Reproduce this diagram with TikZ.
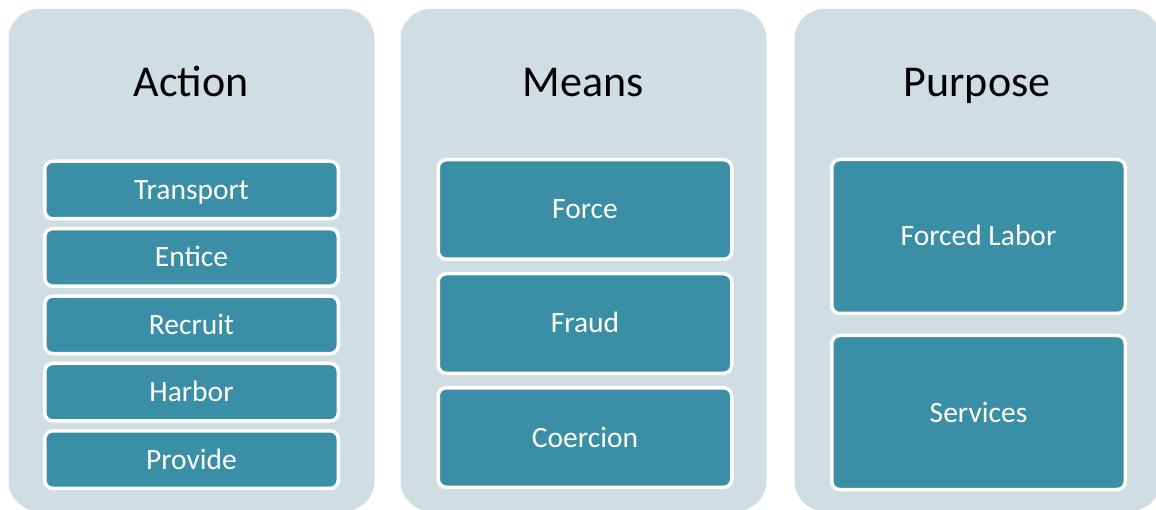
\documentclass[tikz,border=0pt]{standalone}
\usepackage{fontspec}
\setmainfont{Carlito}
\definecolor{panelgray}{RGB}{208,221,227}
\definecolor{boxteal}{RGB}{58,142,165}
\begin{document}
\begin{tikzpicture}[x=1pt,y=-1pt,
	panel/.style={fill=panelgray,rounded corners=30pt,minimum width=366pt,minimum height=502pt,inner sep=0pt},
	title/.style={font=\fontsize{44}{44}\selectfont,text height=28.3pt,text depth=0pt,inner sep=0pt},
	item/.style={draw=white,line width=3.5pt,fill=boxteal,rounded corners=8pt,text=white,minimum width=293.5pt,
		font=\fontsize{29.5}{30}\selectfont,text height=19pt,text depth=0pt,inner sep=0pt}]
	\useasboundingbox (0,0) rectangle (1156,510);
	\clip (0,0) rectangle (1156,510);
	\node[panel] (pact) at (191.5,260) {};
	\node[panel] (pmeans) at (583.5,260) {};
	\node[panel] (ppurp) at (977.5,260) {};
	\node[title] (tact) at (191,82) {Action};
	\node[title] (tmeans) at (583,82) {Means};
	\node[title] (tpurp) at (977,82) {Purpose};
	\foreach \txt [count=\i from 0] in {Transport,Entice,Recruit,Harbor,Provide}
		\node[item,minimum height=57.5pt] (act\i) at (191.5,{190+67.4*\i}) {\txt};
	\foreach \txt [count=\i from 0] in {Force,Fraud,Coercion}
		\node[item,minimum height=99.5pt] (mean\i) at (585,{209.5+114*\i}) {\txt};
	\foreach \txt [count=\i from 0] in {Forced Labor,Services}
		\node[item,minimum height=154pt] (purp\i) at (978.5,{236.5+176*\i}) {\txt};
\end{tikzpicture}
\end{document}
